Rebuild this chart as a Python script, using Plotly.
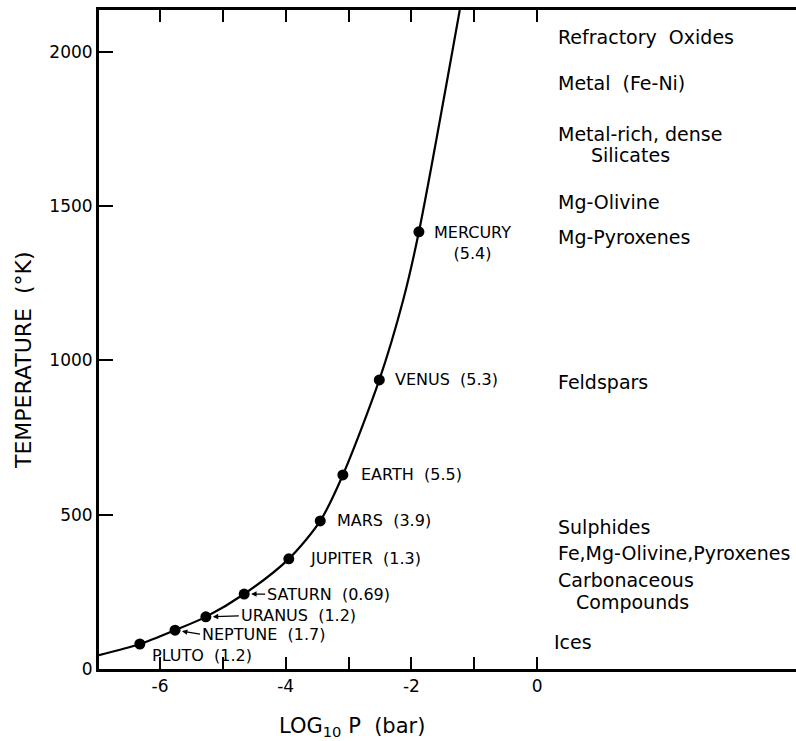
import plotly.graph_objects as go

# Condensation curve of the solar nebula: temperature vs log10 pressure
curve_logp = [-6.97, -6.32, -5.76, -5.27, -4.66, -3.95, -3.45, -3.09, -2.51, -2.13, -1.88, -1.23]
curve_temp = [45, 81, 126, 169, 243, 357, 480, 629, 937, 1196, 1417, 2136]

# Planets on the curve, with their uncompressed densities
planet_names = ["MERCURY", "VENUS", "EARTH", "MARS", "JUPITER", "SATURN", "URANUS", "NEPTUNE", "PLUTO"]
planet_logp = [-1.88, -2.51, -3.09, -3.45, -3.95, -4.66, -5.27, -5.76, -6.32]
planet_temp = [1417, 937, 629, 480, 357, 243, 169, 126, 81]
planet_density = ["5.4", "5.3", "5.5", "3.9", "1.3", "0.69", "1.2", "1.7", "1.2"]

# Condensates and the temperature at which each is listed
condensates = ["Refractory  Oxides", "Metal  (Fe-Ni)", "Metal-rich, dense", "Silicates",
               "Mg-Olivine", "Mg-Pyroxenes", "Feldspars", "Sulphides",
               "Fe,Mg-Olivine,Pyroxenes", "Carbonaceous", "Compounds", "Ices"]
condensate_temp = [2049, 1900, 1735, 1666, 1514, 1400, 930, 460, 376, 289, 218, 88]

x_tickvals = [-6, -4, -2, 0]
x_ticktext = ["-6", "-4", "-2", "0"]
x_minor_tickvals = [-5, -3, -1]
y_tickvals = [0, 500, 1000, 1500, 2000]
y_ticktext = ["0", "500", "1000", "1500", "2000"]

FONT = "DejaVu Sans"
INK = "black"

# label placement: (right, down) pixel offsets of each label's left edge from its dot
label_shift = {
    "MERCURY": (13, 11), "VENUS": (14, 0), "EARTH": (16, 0), "MARS": (15, 0),
    "JUPITER": (19, 0), "SATURN": (21, 0), "URANUS": (33, -1), "NEPTUNE": (25, 4),
    "PLUTO": (10, 11),
}
# labels joined to their dot by a short arrow
arrowed = {"SATURN", "URANUS", "NEPTUNE"}
# indentation of wrapped condensate lines
indent = {"Silicates": 33, "Compounds": 18, "Ices": -4}

fig = go.Figure()

fig.add_trace(go.Scatter(
    x=curve_logp, y=curve_temp, mode="lines",
    line=dict(color=INK, width=2.2, shape="spline", smoothing=0.8),
    hoverinfo="skip", showlegend=False,
))

fig.add_trace(go.Scatter(
    x=planet_logp, y=planet_temp, mode="markers",
    marker=dict(color=INK, size=11),
    showlegend=False,
))

annotations = []
planet_font = dict(family=FONT, size=16, color=INK)
for name, lp, t, d in zip(planet_names, planet_logp, planet_temp, planet_density):
    dx, dy = label_shift[name]
    if name == "MERCURY":
        text, align = f"{name}<br>({d})", "center"
    else:
        text, align = f"{name}  ({d})", "left"
    if name in arrowed:
        annotations.append(dict(
            x=lp, y=t, xref="x", yref="y", text=text, showarrow=True,
            ax=dx, ay=dy, xanchor="left", yanchor="middle", align=align,
            arrowhead=2, arrowsize=0.9, arrowwidth=1.2, arrowcolor=INK,
            standoff=7, font=planet_font,
        ))
    else:
        annotations.append(dict(
            x=lp, y=t, xref="x", yref="y", text=text, showarrow=False,
            xanchor="left", yanchor="middle", xshift=dx, yshift=-dy,
            align=align, font=planet_font,
        ))

for label, t in zip(condensates, condensate_temp):
    annotations.append(dict(
        x=0.30, y=t, xref="x", yref="y", text=label, showarrow=False,
        xanchor="left", yanchor="middle", xshift=indent.get(label, 0),
        font=dict(family=FONT, size=19, color=INK),
    ))

# axis titles
annotations.append(dict(
    x=-2.94, y=0, xref="x", yref="paper", text="LOG<sub>10</sub> P  (bar)",
    showarrow=False, xanchor="center", yanchor="middle", yshift=-58,
    font=dict(family=FONT, size=21, color=INK),
))
annotations.append(dict(
    x=0, y=(669 - 360) / 659, xref="paper", yref="paper", text="TEMPERATURE  (°K)",
    showarrow=False, xanchor="center", yanchor="middle", xshift=-76, textangle=-90,
    font=dict(family=FONT, size=22, color=INK),
))

fig.update_layout(
    width=796, height=741,
    margin=dict(l=99, r=0, t=10, b=72),
    paper_bgcolor="white", plot_bgcolor="white",
    annotations=annotations,
    showlegend=False,
    xaxis=dict(
        range=[-6.97, 4.12], tickvals=x_tickvals, ticktext=x_ticktext,
        ticks="inside", ticklen=12, tickwidth=1.5, tickcolor=INK,
        minor=dict(tickvals=x_minor_tickvals, ticks="inside", ticklen=12,
                   tickwidth=1.5, tickcolor=INK, showgrid=False),
        showline=True, linewidth=3, linecolor=INK, mirror="ticks",
        showgrid=False, zeroline=False,
        tickfont=dict(family=FONT, size=17, color=INK),
    ),
    yaxis=dict(
        range=[0, 2136], tickvals=y_tickvals, ticktext=y_ticktext,
        ticks="inside", ticklen=14, tickwidth=1.5, tickcolor=INK,
        showline=True, linewidth=3, linecolor=INK, mirror=False,
        showgrid=False, zeroline=False,
        tickfont=dict(family=FONT, size=17, color=INK),
    ),
)

fig.write_html("out.html")
